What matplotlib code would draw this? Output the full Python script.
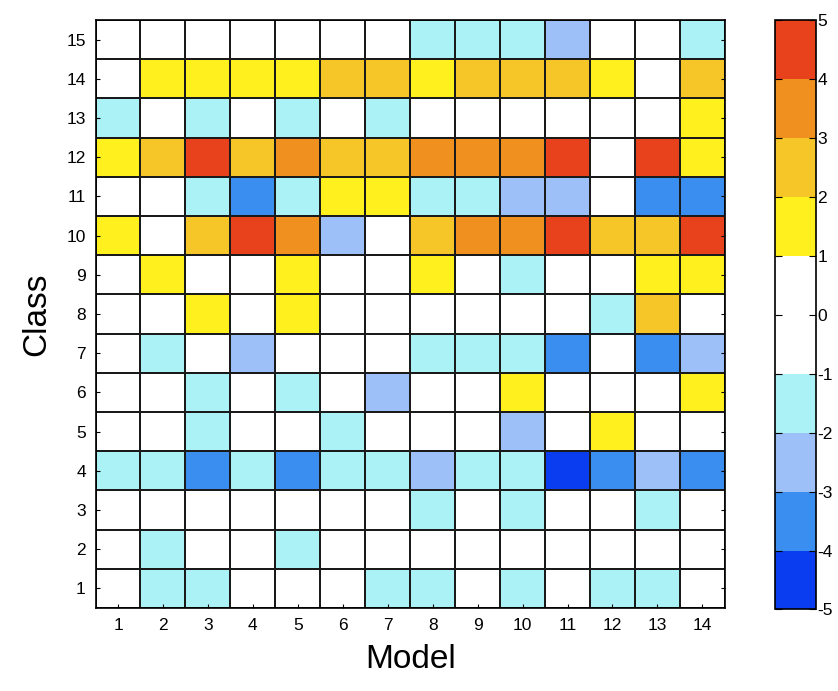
import numpy as np
import matplotlib
matplotlib.use("Agg")
import matplotlib.pyplot as plt
from matplotlib.colors import ListedColormap, BoundaryNorm

plt.rcParams['font.family'] = ['Liberation Sans', 'DejaVu Sans']
plt.rcParams['axes.unicode_minus'] = False

# Data: level codes per class (row) and model (column)
models = list(range(1, 15))
classes = list(range(1, 16))
# W=white(0..1), Y=1..2, G=2..3, O=3..4, R=4..5, C=-2..-1, L=-3..-2, B=-4..-3, D=-5..-4
code_value = {'D': -4.5, 'B': -3.5, 'L': -2.5, 'C': -1.5, 'W': 0.5,
              'Y': 1.5, 'G': 2.5, 'O': 3.5, 'R': 4.5}
rows = {
    15: "WWWWWWWCCCLWWC",
    14: "WYYYYGGYGGGYWG",
    13: "CWCWCWCWWWWWWY",
    12: "YGRGOGGOOORWRY",
    11: "WWCBCYYCCLLWBB",
    10: "YWGROLWGOORGGR",
    9:  "WYWWYWWYWCWWYY",
    8:  "WWYWYWWWWWWCGW",
    7:  "WCWLWWWCCCBWBL",
    6:  "WWCWCWLWWYWWWY",
    5:  "WWCWWCWWWLWYWW",
    4:  "CCBCBCCLCCDBLB",
    3:  "WWWWWWWCWCWWCW",
    2:  "WCWWCWWWWWWWWW",
    1:  "WCCWWWCCWCWCCW",
}
values = np.array([[code_value[ch] for ch in rows[c]] for c in classes])

level_colors = ['#0a3cf0', '#3a8ef0', '#9cc0f7', '#aaf2f6', '#ffffff',
                '#ffffff', '#fff01e', '#f6c628', '#f0901e', '#e8421c']
bounds = np.arange(-5, 6)
cmap = ListedColormap(level_colors)
norm = BoundaryNorm(bounds, cmap.N)

fig = plt.figure(figsize=(8.38, 6.91), dpi=100)
ax = fig.add_axes([0.114, 0.120, 0.751, 0.851])
xe = np.arange(0.5, len(models) + 1)
ye = np.arange(0.5, len(classes) + 1)
mesh = ax.pcolormesh(xe, ye, values, cmap=cmap, norm=norm,
                     edgecolors='#1a1a1a', linewidth=1.1)
ax.set_xlim(0.5, len(models) + 0.5)
ax.set_ylim(0.5, len(classes) + 0.5)
ax.set_xticks(models)
ax.set_yticks(classes)
ax.tick_params(direction='in', length=3, labelsize=12.5, right=True, top=False,
               pad=7)
for s in ax.spines.values():
    s.set_linewidth(1.2)
ax.set_xlabel('Model', fontsize=24, labelpad=8)
ax.set_ylabel('Class', fontsize=24, labelpad=10)

cax = fig.add_axes([0.925, 0.118, 0.049, 0.853])
cb = fig.colorbar(mesh, cax=cax, boundaries=bounds, ticks=bounds)
cb.ax.tick_params(direction='in', length=5, labelsize=12.5, left=True, pad=1)
cb.outline.set_linewidth(1.2)

fig.savefig('out.png', dpi=100)
